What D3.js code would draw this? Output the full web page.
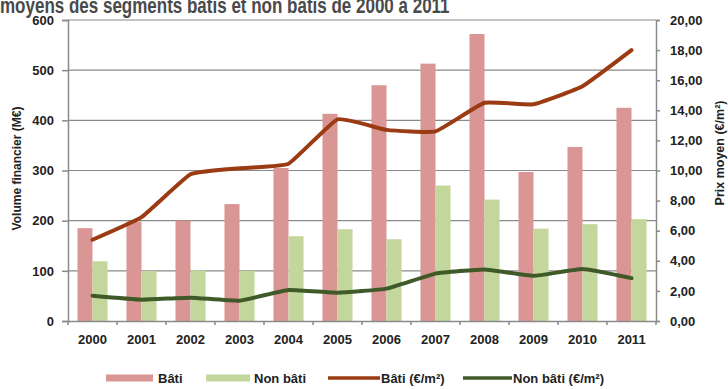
<!DOCTYPE html>
<html>
<head>
<meta charset="utf-8">
<script src="https://cdn.jsdelivr.net/npm/d3@7"></script>
<style>
    body { margin: 0; background: #fff; }
    svg { display: block; }
    text { font-family: "Liberation Sans Narrow", "Arial Narrow", "Liberation Sans", sans-serif; font-weight: bold; fill: #222; }
</style>
</head>
<body>
<div id="chart"></div>
<script>
const years = ["2000", "2001", "2002", "2003", "2004", "2005", "2006", "2007", "2008", "2009", "2010", "2011"];
const volumeBati = [185, 198, 200, 233, 305, 413, 470, 513, 572, 297, 347, 425];
const volumeNonBati = [119, 100, 101, 100, 169, 183, 163, 270, 242, 184, 193, 203];
const prixBati = [5.4, 6.9, 9.75, 10.15, 10.45, 13.4, 12.7, 12.6, 14.5, 14.4, 15.6, 18.0];
const prixNonBati = [1.68, 1.42, 1.55, 1.35, 2.06, 1.88, 2.15, 3.15, 3.42, 3.0, 3.45, 2.85];
const leftTicks = [0, 100, 200, 300, 400, 500, 600];
const rightTicks = [0, 2, 4, 6, 8, 10, 12, 14, 16, 18, 20];
const barSeries = ["Bâti", "Non bâti"];
const lineSeries = ["Bâti (€/m²)", "Non bâti (€/m²)"];

const W = 728, H = 389;
const margin = { top: 20, right: 72, bottom: 68, left: 68 };
const width = W - margin.left - margin.right;
const height = H - margin.top - margin.bottom;

const barColors = ["#d99694", "#c3d69b"];
const lineColors = ["#9b3b13", "#3f5a28"];
const gridColor = "#8a8a8a";

const fr = d3.formatLocale({ decimal: ",", thousands: " ", grouping: [3], currency: ["", " €"] });

const svg = d3.select("#chart").append("svg")
    .attr("width", W)
    .attr("height", H);

// title, top cut off as in the original
svg.append("text")
    .attr("transform", "translate(0, 13) scale(1, 1.25)")
    .attr("font-family", "Liberation Sans, Arial, sans-serif")
    .attr("font-size", 17)
    .style("fill", "#4a4a4a")
    .text("moyens des segments bâtis et non bâtis de 2000 à 2011");

const g = svg.append("g")
    .attr("transform", `translate(${margin.left}, ${margin.top})`);

let x = d3.scaleBand().domain(years).range([0, width]).padding(0);
let xInner = d3.scaleBand().domain(barSeries).range([0, x.bandwidth()])
    .paddingInner(0).paddingOuter(0.63);
let yLeft = d3.scaleLinear().domain([0, 600]).range([height, 0]);
let yRight = d3.scaleLinear().domain([0, 20]).range([height, 0]);

// gridlines
g.append("g")
    .selectAll("line")
    .data(leftTicks.filter(d => d > 0))
    .join("line")
    .attr("x1", 0)
    .attr("x2", width)
    .attr("y1", d => yLeft(d))
    .attr("y2", d => yLeft(d))
    .attr("stroke", gridColor)
    .attr("stroke-width", 1.2);

// bars
let groups = g.append("g")
    .selectAll("g")
    .data(years.map((year, i) => ({ year, values: [volumeBati[i], volumeNonBati[i]] })))
    .join("g")
    .attr("transform", d => `translate(${x(d.year)}, 0)`);

groups.selectAll("rect")
    .data(d => d.values.map((v, i) => ({ key: barSeries[i], v, i })))
    .join("rect")
    .attr("x", d => xInner(d.key))
    .attr("width", xInner.bandwidth())
    .attr("y", d => yLeft(d.v))
    .attr("height", d => height - yLeft(d.v))
    .attr("fill", d => barColors[d.i]);

// lines (slightly smoothed, like the spreadsheet original)
let line = d3.line()
    .x((d, i) => x(years[i]) + x.bandwidth() / 2)
    .y(d => yRight(d))
    .curve(d3.curveCardinal.tension(0.65));

[prixBati, prixNonBati].forEach((series, i) => {
    g.append("path")
        .datum(series)
        .attr("fill", "none")
        .attr("stroke", lineColors[i])
        .attr("stroke-width", 4)
        .attr("stroke-linejoin", "round")
        .attr("stroke-linecap", "round")
        .attr("d", line);
});

// left axis
let leftAxis = g.append("g")
    .call(d3.axisLeft(yLeft).tickValues(leftTicks).tickSize(6).tickPadding(8));
leftAxis.selectAll("text").attr("font-size", 13);

// right axis
let rightAxis = g.append("g")
    .attr("transform", `translate(${width}, 0)`)
    .call(d3.axisRight(yRight).tickValues(rightTicks).tickSize(4).tickPadding(10)
        .tickFormat(fr.format(".2f")));
rightAxis.selectAll("text").attr("font-size", 13);

// bottom axis
let bottomAxis = g.append("g")
    .attr("transform", `translate(0, ${height})`)
    .call(d3.axisBottom(x).tickSize(0).tickPadding(14));
bottomAxis.selectAll("text").attr("font-size", 13);
bottomAxis.selectAll(".tick")
    .data(years)
    .append("line")
    .attr("x1", -x.bandwidth() / 2)
    .attr("x2", -x.bandwidth() / 2)
    .attr("y2", 4);
bottomAxis.append("line")
    .attr("x1", width)
    .attr("x2", width)
    .attr("y2", 4);

svg.selectAll(".domain, .tick line")
    .attr("stroke", gridColor)
    .attr("stroke-width", 1.5);
bottomAxis.selectAll("line").attr("stroke", gridColor).attr("stroke-width", 1.5);
svg.selectAll(".tick text").style("fill", "#222");

// axis titles
svg.append("text")
    .attr("transform", `translate(21, ${margin.top + height / 2 - 2}) rotate(-90)`)
    .attr("text-anchor", "middle")
    .attr("font-size", 12)
    .text("Volume financier (M€)");

svg.append("text")
    .attr("transform", `translate(724, 153) rotate(-90)`)
    .attr("text-anchor", "middle")
    .attr("font-size", 12.5)
    .text("Prix moyen (€/m²)");

// legend
let legend = svg.append("g").attr("transform", "translate(0, 378)");
let legendItems = [
    { label: barSeries[0], color: barColors[0], type: "bar", x: 106, w: 47, tx: 158 },
    { label: barSeries[1], color: barColors[1], type: "bar", x: 206, w: 44, tx: 254 },
    { label: lineSeries[0], color: lineColors[0], type: "line", x: 328, w: 52, tx: 381 },
    { label: lineSeries[1], color: lineColors[1], type: "line", x: 463, w: 49, tx: 513 }
];
legendItems.forEach(d => {
    if (d.type === "bar") {
        legend.append("rect")
            .attr("x", d.x).attr("y", -3.5)
            .attr("width", d.w).attr("height", 7)
            .attr("fill", d.color);
    } else {
        legend.append("line")
            .attr("x1", d.x).attr("x2", d.x + d.w)
            .attr("y1", 0).attr("y2", 0)
            .attr("stroke", d.color)
            .attr("stroke-width", 3.5);
    }
    legend.append("text")
        .attr("x", d.tx)
        .attr("y", 5)
        .attr("font-size", 13)
        .text(d.label);
});
</script>
</body>
</html>
